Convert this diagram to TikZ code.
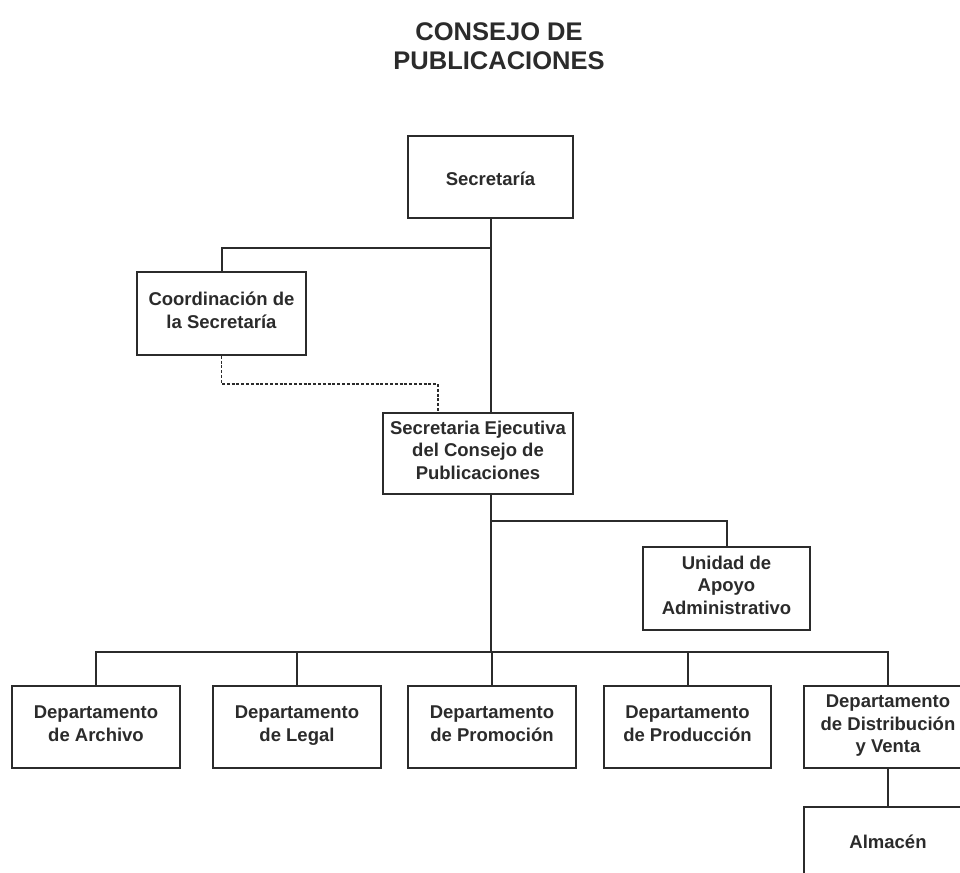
\documentclass[tikz,border=0pt]{standalone}
\usepackage{fontspec}
\setmainfont{Liberation Sans}
\definecolor{ink}{HTML}{2B2B2B}
\begin{document}
\begin{tikzpicture}[x=1pt,y=-1pt,
  box/.style={draw=ink, line width=1.5pt, fill=white, rectangle, align=center, text=ink,
    font=\bfseries\fontsize{18.5}{22.3}\selectfont, inner sep=2pt,
    execute at begin node={\rule{0pt}{24pt}}, execute at end node=\strut},
  conn/.style={draw=ink, line width=2pt},
  dconn/.style={draw=ink, line width=1.2pt, dash pattern=on 3pt off 1.8pt}]
\useasboundingbox (0,0) rectangle (960,872);
\fill[white] (0,0) rectangle (960,872);

\node[text=ink, align=center, font=\bfseries\fontsize{25.5}{28.5}\selectfont] (title) at (499,46) {CONSEJO DE\\PUBLICACIONES};

\node[box, minimum width=165, minimum height=82] (sec) at (490.5,177) {Secretaría};
\node[box, minimum width=169, minimum height=83] (coord) at (221.5,313.5) {Coordinación de\\la Secretaría};
\node[box, minimum width=190, minimum height=81] (ejec) at (478,453.5) {Secretaria Ejecutiva\\del Consejo de\\Publicaciones};
\node[box, minimum width=167, minimum height=83] (unid) at (726.5,588.5) {Unidad de\\Apoyo\\Administrativo};

\node[box, minimum width=168, minimum height=82] (arch) at (96,727) {Departamento\\de Archivo};
\node[box, minimum width=168, minimum height=82] (leg) at (297,727) {Departamento\\de Legal};
\node[box, minimum width=168, minimum height=82] (prom) at (492,727) {Departamento\\de Promoción};
\node[box, minimum width=167, minimum height=82] (prod) at (687.5,727) {Departamento\\de Producción};
\node[box, minimum width=168, minimum height=82] (dist) at (888,727) {Departamento\\de Distribución\\y Venta};
\node[box, minimum width=168, minimum height=76, anchor=north] (alm) at (888,806) {\raisebox{5pt}{Almacén}};

\coordinate (j1) at (491,248);
\coordinate (dk) at (438,384);
\coordinate (j2) at (491,521);
\coordinate (j3) at (491,652);

% Secretaría trunk
\draw[conn] (sec.south -| j1) -- (j1 |- ejec.north);
\draw[conn] (j1) -| (coord.north);
% dotted advisory line
\draw[dconn] (coord.south) |- (dk) -- (dk |- ejec.north);
% Secretaria Ejecutiva trunk
\draw[conn] (j2 |- ejec.south) -- (j3);
\draw[conn] (j2) -| (unid.north);
% department bus
\draw[conn] (arch.north) |- (j3) -| (dist.north);
\draw[conn] (leg.north) -- (leg.north |- j3);
\draw[conn] (prom.north) -- (prom.north |- j3);
\draw[conn] (prod.north) -- (prod.north |- j3);
\draw[conn] (dist.south) -- (alm.north);
\end{tikzpicture}
\end{document}
